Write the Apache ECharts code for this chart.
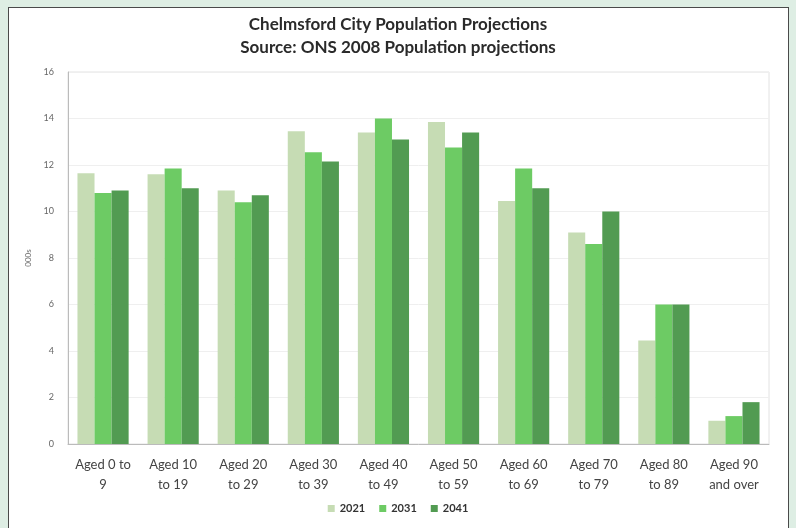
<!DOCTYPE html>
<html>
<head>
<meta charset="utf-8">
<script src="https://cdn.jsdelivr.net/npm/echarts@6/dist/echarts.min.js"></script>
<style>
  body { margin: 0; background: #deeee4; }
  #frame { position: absolute; left: 8px; top: 7px; width: 779px; height: 540px; border: 1px solid #4a4a4a; background: #fff; }
  #main { position: absolute; left: 0; top: 0; width: 796px; height: 528px; }
</style>
</head>
<body>
<div id="frame"></div>
<div id="main"></div>
<script>
// age bands (already wrapped the way the axis shows them)
const categories = [
  'Aged 0 to\n9', 'Aged 10\nto 19', 'Aged 20\nto 29', 'Aged 30\nto 39', 'Aged 40\nto 49',
  'Aged 50\nto 59', 'Aged 60\nto 69', 'Aged 70\nto 79', 'Aged 80\nto 89', 'Aged 90\nand over'
]
const years = ['2021', '2031', '2041']
const values2021 = [11.65, 11.6, 10.9, 13.45, 13.4, 13.85, 10.45, 9.1, 4.45, 1.0]
const values2031 = [10.8, 11.85, 10.4, 12.55, 14.0, 12.75, 11.85, 8.6, 6.0, 1.2]
const values2041 = [10.9, 11.0, 10.7, 12.15, 13.1, 13.4, 11.0, 10.0, 6.0, 1.8]
const yTicks = [0, 2, 4, 6, 8, 10, 12, 14, 16]

const colors = ['#c6dcb4', '#6dcb64', '#529b52']
const font = 'Lato'

let chart = echarts.init(document.getElementById('main'))
chart.setOption({
  color: colors,
  title: {
    text: 'Chelmsford City Population Projections\nSource: ONS 2008 Population projections',
    left: 'center',
    top: 8,
    textStyle: {
      fontFamily: font,
      fontSize: 17,
      fontWeight: 'bold',
      lineHeight: 23,
      color: '#2a2a2a'
    }
  },
  legend: {
    data: years,
    bottom: 9,
    left: 'center',
    itemWidth: 7,
    itemHeight: 7,
    itemGap: 14,
    icon: 'rect',
    textStyle: { fontFamily: font, fontSize: 11, fontWeight: 'bold', color: '#333' }
  },
  grid: {
    left: 68,
    top: 72,
    right: 27,
    bottom: 84,
    show: true,
    borderColor: '#e2e2e2',
    borderWidth: 1
  },
  xAxis: {
    type: 'category',
    data: categories,
    axisLine: { lineStyle: { color: '#bbb' } },
    // 刻度
    axisTick: { show: false },
    axisLabel: {
      interval: 0,
      fontFamily: font,
      fontSize: 13,
      lineHeight: 20,
      color: '#444',
      margin: 11
    }
  },
  yAxis: {
    type: 'value',
    name: '000s',
    nameLocation: 'middle',
    nameGap: 34,
    nameTextStyle: { fontFamily: font, fontSize: 8, color: '#666' },
    min: yTicks[0],
    max: yTicks[yTicks.length - 1],
    interval: 2,
    axisLine: { show: true, lineStyle: { color: '#bbb' } },
    axisTick: { show: false },
    axisLabel: { fontFamily: font, fontSize: 9, color: '#666', margin: 14 },
    splitLine: { lineStyle: { color: '#efefef' } }
  },
  series: years.map((y, i) => ({
    name: y,
    type: 'bar',
    data: [values2021, values2031, values2041][i],
    barGap: '0%',
    barCategoryGap: '27%'
  }))
})
</script>
</body>
</html>
